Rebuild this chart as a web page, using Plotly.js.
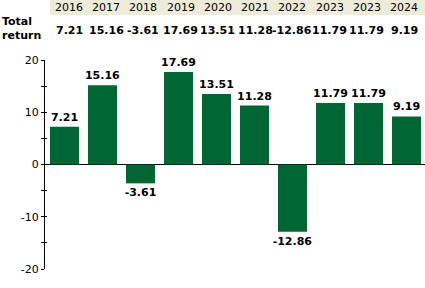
<!DOCTYPE html>
<html>
<head>
<meta charset="utf-8">
<script src="https://cdn.plot.ly/plotly-3.0.1.min.js"></script>
<style>html,body{margin:0;padding:0;background:#fff}#chart{width:425px;height:288px}</style>
</head>
<body>
<div id="chart"></div>
<script>
const years = ["2016","2017","2018","2019","2020","2021","2022","2023","2023","2024"];
const totalReturn = [7.21, 15.16, -3.61, 17.69, 13.51, 11.28, -12.86, 11.79, 11.79, 9.19];
const headerLabels = ["7.21","15.16","-3.61","17.69","13.51","11.28","-12.86","11.79","11.79","9.19"];
const rowTitle = "Total<br>return";
const yTickVals = [-20, -10, 0, 10, 20];
const yTickText = ["-20", "-10", "0", "10", "20"];
const yMinorVals = [-15, -5, 5, 15];

const idx = years.map((_, i) => i);
const FONT = "DejaVu Sans, Verdana, sans-serif";
const GREEN = "#006633";

const trace = {
  type: "bar",
  x: idx,
  y: totalReturn,
  marker: {color: GREEN, line: {width: 0}},
  text: totalReturn.map(v => v.toFixed(2)),
  textposition: "outside",
  constraintext: "none",
  textfont: {family: FONT, size: 11, color: "#000", weight: "bold"},
  cliponaxis: false,
  hoverinfo: "none"
};
const ghost = {type: "scatter", x: [0], y: [0], xaxis: "x2", yaxis: "y2", mode: "markers", marker: {opacity: 0}, hoverinfo: "none", showlegend: false};

const annotations = [];
years.forEach((yr, i) => {
  annotations.push({xref: "x2", yref: "paper", x: i, y: 1.2512, text: yr, showarrow: false,
    xanchor: "center", yanchor: "middle", font: {family: FONT, size: 11, color: "#000"}});
  annotations.push({xref: "x2", yref: "paper", x: i, y: 1.1411, text: headerLabels[i], showarrow: false,
    xanchor: "center", yanchor: "middle", font: {family: FONT, size: 11, color: "#000", weight: "bold"}});
});
annotations.push({xref: "paper", yref: "paper", x: -0.1184, y: 1.153, text: rowTitle, showarrow: false,
  xanchor: "left", yanchor: "middle", align: "left", font: {family: FONT, size: 11, color: "#000", weight: "bold"}});

const layout = {
  width: 425, height: 288,
  margin: {l: 45, r: 0, t: 60, b: 19, pad: 0},
  paper_bgcolor: "#fff", plot_bgcolor: "#fff",
  showlegend: false,
  bargap: 0.237,
  xaxis: {range: [-0.513, 9.487], visible: false, fixedrange: true},
  xaxis2: {range: [-0.645, 9.564], visible: false, overlaying: "x", fixedrange: true},
  yaxis: {range: [-20, 20], tickmode: "array", tickvals: yTickVals, ticktext: yTickText, ticks: "outside", ticklen: 3, tickcolor: "#000",
    showline: true, linecolor: "#000", linewidth: 1, showgrid: false,
    zeroline: true, zerolinecolor: "#000", zerolinewidth: 1,
    minor: {tickvals: yMinorVals, ticks: "outside", ticklen: 3, tickcolor: "#000"},
    tickfont: {family: FONT, size: 11, color: "#000"}, fixedrange: true},
  yaxis2: {range: [-20, 20], overlaying: "y", tickvals: yTickVals, ticks: "inside", ticklen: 2, tickcolor: "#000",
    showticklabels: false, showgrid: false, zeroline: false, showline: false,
    minor: {tickvals: yMinorVals, ticks: "inside", ticklen: 2, tickcolor: "#000"}, fixedrange: true},
  shapes: [{type: "rect", xref: "paper", yref: "paper", x0: 5/380, x1: 1, y0: 1.2153, y1: 1.29,
    fillcolor: "#ECECD9", line: {width: 0}, layer: "below"}],
  annotations: annotations
};

Plotly.newPlot("chart", [trace, ghost], layout, {displayModeBar: false, staticPlot: true});
</script>
</body>
</html>
